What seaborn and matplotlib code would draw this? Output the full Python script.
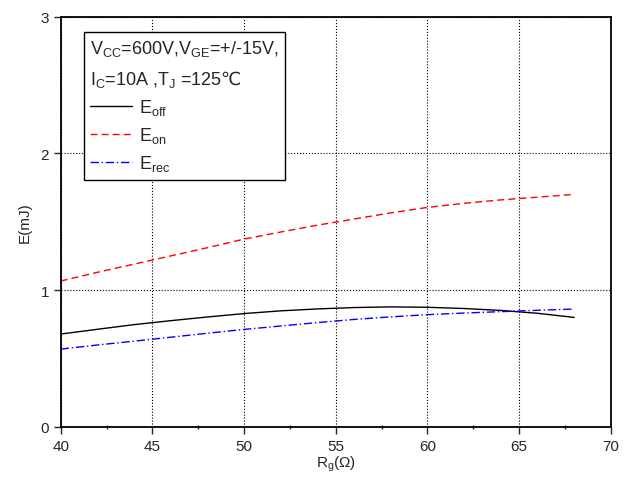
import pandas as pd
import matplotlib.pyplot as plt
import seaborn as sns
from matplotlib.lines import Line2D
from matplotlib.ticker import MultipleLocator

# Data
rg = [40, 42, 44, 46, 48, 50, 52, 54, 56, 58, 60, 62, 64, 66, 68]
e_off = [0.678, 0.713, 0.747, 0.776, 0.803, 0.828, 0.848, 0.862, 0.872, 0.877,
         0.874, 0.865, 0.851, 0.830, 0.800]
e_on = [1.066, 1.13, 1.19, 1.25, 1.31, 1.373, 1.425, 1.475, 1.52, 1.565,
        1.605, 1.635, 1.66, 1.68, 1.70]
e_rec = [0.568, 0.598, 0.626, 0.655, 0.684, 0.712, 0.737, 0.762, 0.785, 0.804,
         0.820, 0.832, 0.842, 0.852, 0.861]

sns.set_style('white')
plt.rcParams['font.family'] = ['Liberation Sans', 'DejaVu Sans']
plt.rcParams['mathtext.fontset'] = 'custom'
plt.rcParams['mathtext.rm'] = 'Liberation Sans'
plt.rcParams['mathtext.it'] = 'Liberation Sans'
plt.rcParams['mathtext.sf'] = 'DejaVu Sans'  # only used for the ℃ sign

df = pd.DataFrame({'Rg': rg, 'Eoff': e_off, 'Eon': e_on, 'Erec': e_rec})

fig = plt.figure(figsize=(6.31, 4.81), dpi=100)
ax = fig.add_axes([0.0962, 0.1108, 0.8718, 0.8522])

sns.lineplot(data=df, x='Rg', y='Eoff', ax=ax, color='black', linewidth=1.0)
sns.lineplot(data=df, x='Rg', y='Eon', ax=ax, color='red', linewidth=1.0, linestyle=(0, (5, 3)))
sns.lineplot(data=df, x='Rg', y='Erec', ax=ax, color='blue', linewidth=1.0, linestyle=(0, (6, 2, 1, 2)))

ax.set_xlim(40, 70)
ax.set_ylim(0, 3)
ax.xaxis.set_major_locator(MultipleLocator(5))
ax.xaxis.set_minor_locator(MultipleLocator(2.5))
ax.yaxis.set_major_locator(MultipleLocator(1))
ax.grid(True, which='major', color='black', linestyle=':', linewidth=0.8)

ax.tick_params(which='major', direction='out', length=5, width=1, labelsize=11,
               bottom=True, left=True)
ax.tick_params(which='minor', direction='inout', length=3, width=1, bottom=True)
for s in ax.spines.values():
    s.set_linewidth(1.3)
    s.set_color('black')

ax.set_xlabel(r'R$\mathregular{_g}$($\Omega$)', fontsize=11, labelpad=1)
ax.set_ylabel('E(mJ)', fontsize=11, labelpad=6)

handles = [
    Line2D([], [], color='black', linewidth=1.0),
    Line2D([], [], color='red', linewidth=1.0, linestyle=(0, (5, 3))),
    Line2D([], [], color='blue', linewidth=1.0, linestyle=(0, (6, 2, 1, 2))),
]
labels = [r'E$\mathregular{_{off}}$', r'E$\mathregular{_{on}}$', r'E$\mathregular{_{rec}}$']
title = (r'V$\mathregular{_{CC}}$=600V,V$\mathregular{_{GE}}$=+/-15V,' + '\n'
         + r'I$\mathregular{_C}$=10A ,T$\mathregular{_J}$ =125$\mathsf{℃}$')
leg = ax.legend(handles, labels, title=title, loc='upper left',
                bbox_to_anchor=(0.042, 0.963), borderaxespad=0,
                fontsize=13, title_fontsize=13,
                frameon=True, fancybox=False, edgecolor='black', framealpha=1,
                handlelength=2.3, handletextpad=0.4, borderpad=0.35,
                labelspacing=0.45, alignment='left')
leg.get_frame().set_linewidth(1.0)
leg.get_title().set_linespacing(1.6)

fig.savefig('out.png', dpi=100)
plt.close(fig)
